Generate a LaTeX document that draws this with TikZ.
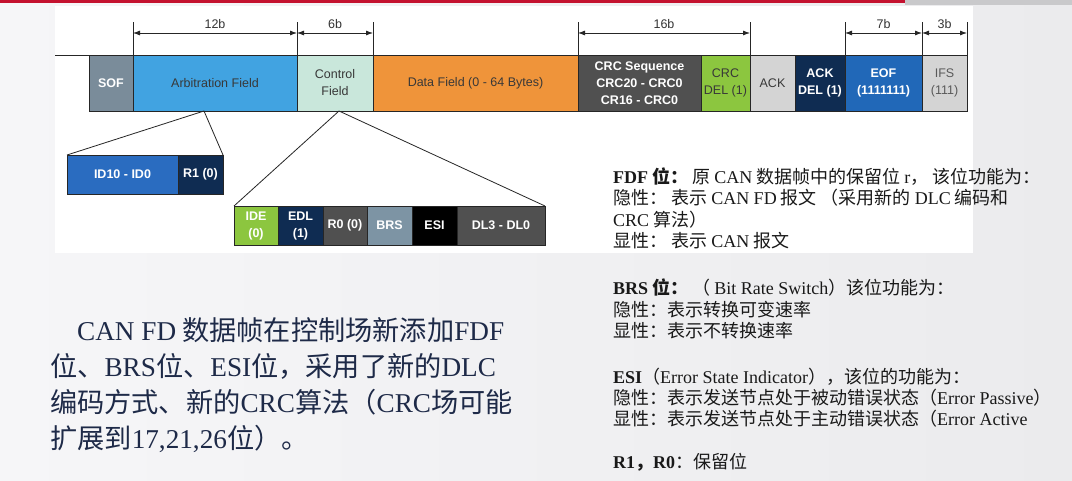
\documentclass[tikz,border=0pt]{standalone}
\usepackage{xcolor}
\usepackage{fontspec}
\setmainfont{Liberation Serif}
\newfontfamily\arial{Liberation Sans}
\newfontfamily\latin{Liberation Serif}
\newfontfamily\cjk{Noto Sans CJK SC}
\usepackage{tikz}
\usetikzlibrary{arrows.meta, positioning, calc}
\newcommand\en[1]{{\latin #1}}
\definecolor{bgleft}{HTML}{F6F6F8}
\definecolor{bgright}{HTML}{EBEBED}
\definecolor{slidered}{HTML}{C4122F}
\definecolor{topgray}{HTML}{C9C9CB}
\definecolor{sofgray}{HTML}{7A8C9A}
\definecolor{arbblue}{HTML}{41A3E1}
\definecolor{ctrlmint}{HTML}{C9E7DB}
\definecolor{dataorange}{HTML}{EF943A}
\definecolor{crcgray}{HTML}{505050}
\definecolor{delgreen}{HTML}{8CC63F}
\definecolor{acklight}{HTML}{D4D4D4}
\definecolor{navy}{HTML}{0F2C52}
\definecolor{eofblue}{HTML}{2168B8}
\definecolor{idblue}{HTML}{2A6CC0}
\definecolor{brsgray}{HTML}{7D94A4}
\definecolor{txtnavy}{HTML}{1E2A48}
\tikzstyle{field} = [rectangle, draw=black!85, line width=0.8pt, minimum height=56pt, inner sep=0pt, outer sep=0pt, align=center, font=\arial\fontsize{12.5}{17}\selectfont, text=black!78]
\tikzstyle{light} = [text=white, font=\arial\bfseries\fontsize{12.5}{17}\selectfont]
\tikzstyle{subfield} = [field, light, minimum height=39pt]
\tikzstyle{tick} = [line width=0.8pt, draw=black!85]
\tikzstyle{dim} = [tick, {Latex[length=7pt,width=5pt]}-{Latex[length=7pt,width=5pt]}]
\tikzstyle{dimlabel} = [midway, above=1pt, font=\arial\fontsize{12.5}{15}\selectfont, text=black!80]
\tikzstyle{fan} = [line width=0.8pt, draw=black!85]
\tikzstyle{note} = [anchor=base west, align=left, inner sep=0pt, font=\cjk\fontsize{18}{21.3}\selectfont, text=black!90]
\tikzstyle{summary} = [anchor=base west, align=left, inner sep=0pt, font=\cjk\fontsize{27.2}{35.7}\selectfont, text=txtnavy]

\begin{document}
\begin{tikzpicture}[x=1pt, y=-1pt]
    \useasboundingbox (0,0) rectangle (1072,481);

    % Fondo
    \shade[left color=bgleft, right color=bgright] (0,0) rectangle (1072,481);
    \fill[slidered] (0,0) rectangle (905,3);
    \fill[topgray] (905,0) rectangle (1072,5);
    \fill[white] (55,6) rectangle (973,253);

    % Campos de la trama
    \node (sof) [field, light, fill=sofgray, minimum width=44pt, anchor=north west] at (89,55) {SOF};
    \node (arb) [field, fill=arbblue, minimum width=164pt, right=0pt of sof] {Arbitration Field};
    \node (ctrl) [field, fill=ctrlmint, minimum width=76pt, right=0pt of arb] {Control\\Field};
    \node (data) [field, fill=dataorange, minimum width=205pt, right=0pt of ctrl] {Data Field (0 - 64 Bytes)};
    \node (crcseq) [field, light, fill=crcgray, minimum width=123pt, right=0pt of data] {CRC Sequence\\CRC20 - CRC0\\CR16 - CRC0};
    \node (crcdel) [field, fill=delgreen, minimum width=49pt, right=0pt of crcseq] {CRC\\DEL (1)};
    \node (ack) [field, fill=acklight, minimum width=45pt, right=0pt of crcdel] {ACK};
    \node (ackdel) [field, light, fill=navy, minimum width=50pt, right=0pt of ack] {ACK\\DEL (1)};
    \node (eof) [field, light, fill=eofblue, minimum width=77pt, right=0pt of ackdel] {EOF\\(1111111)};
    \node (ifs) [field, fill=acklight, text=black!65, minimum width=45pt, right=0pt of eof] {IFS\\(111)};

    \coordinate (frameleft) at (55,55);
    \draw [tick] (frameleft) -- (sof.north west);

    % Cotas
    \draw [tick] (arb.north west) -- ++(0,-33);
    \draw [tick] (arb.north east) -- ++(0,-33);
    \draw [tick] (ctrl.north east) -- ++(0,-33);
    \draw [tick] (crcseq.north west) -- ++(0,-33);
    \draw [tick] (crcdel.north east) -- ++(0,-33);
    \draw [tick] (eof.north west) -- ++(0,-33);
    \draw [tick] (eof.north east) -- ++(0,-33);
    \draw [tick] (ifs.north east) -- ++(0,-33);
    \draw [dim] ($(arb.north west)+(0,-22)$) -- node[dimlabel] {12b} ($(arb.north east)+(0,-22)$);
    \draw [dim] ($(ctrl.north west)+(0,-22)$) -- node[dimlabel] {6b} ($(ctrl.north east)+(0,-22)$);
    \draw [dim] ($(crcseq.north west)+(0,-22)$) -- node[dimlabel] {16b} ($(crcdel.north east)+(0,-22)$);
    \draw [dim] ($(eof.north west)+(0,-22)$) -- node[dimlabel] {7b} ($(eof.north east)+(0,-22)$);
    \draw [dim] ($(ifs.north west)+(0,-22)$) -- node[dimlabel] {3b} ($(ifs.north east)+(0,-22)$);

    % Subcampos
    \node (idrange) [subfield, fill=idblue, minimum width=111pt, anchor=north west] at (67,155) {ID10 - ID0};
    \node (rone) [subfield, fill=navy, minimum width=45pt, right=0pt of idrange] {R1 (0)};
    \node (ide) [subfield, fill=delgreen, minimum width=44pt, anchor=north west] at (234,206) {IDE\\(0)};
    \node (edl) [subfield, fill=navy, minimum width=45pt, right=0pt of ide] {EDL\\(1)};
    \node (rzero) [subfield, fill=crcgray, minimum width=44pt, right=0pt of edl] {R0 (0)};
    \node (brs) [subfield, fill=brsgray, minimum width=45pt, right=0pt of rzero] {BRS};
    \node (esi) [subfield, fill=black, minimum width=45pt, right=0pt of brs] {ESI};
    \node (dlc) [subfield, fill=crcgray, minimum width=88pt, right=0pt of esi] {DL3 - DL0};

    % Lineas de detalle
    \coordinate (arbtip) at (204,111);
    \coordinate (ctrltip) at (339,111);
    \draw [fan] (idrange.north west) -- (arbtip) -- (rone.north east);
    \draw [fan] (ide.north west) -- (ctrltip) -- (dlc.north east);

    % Texto (anclado en la linea base de la ultima linea)
    \node (summarytext) [summary] at (50,448) {\hspace*{27pt}\en{CAN FD} 数据帧在控制场新添加\en{FDF}\\位、\en{BRS}位、\en{ESI}位，采用了新的\en{DLC}\\编码方式、新的\en{CRC}算法（\en{CRC}场可能\\扩展到\en{17,21,26}位）。};
    \node (fdfnote) [note] at (613,247.4) {\textbf{\en{FDF} 位：} 原 \en{CAN} 数据帧中的保留位 \en{r}， 该位功能为：\\隐性： 表示 \en{CAN FD} 报文 （采用新的 \en{DLC} 编码和\\\en{CRC} 算法）\\显性： 表示 \en{CAN} 报文};
    \node (brsnote) [note] at (613,337.6) {\textbf{\en{BRS} 位：} （ \en{Bit Rate Switch}）该位功能为：\\隐性：表示转换可变速率\\显性：表示不转换速率};
    \node (esinote) [note] at (613,425.6) {\textbf{\en{ESI}}（\en{Error State Indicator}），该位的功能为：\\隐性：表示发送节点处于被动错误状态（\en{Error Passive}）\\显性：表示发送节点处于主动错误状态（\en{Error Active}};
    \node (rnote) [note] at (613,468) {\textbf{\en{R1}，\en{R0}}：保留位};
\end{tikzpicture}
\end{document}
